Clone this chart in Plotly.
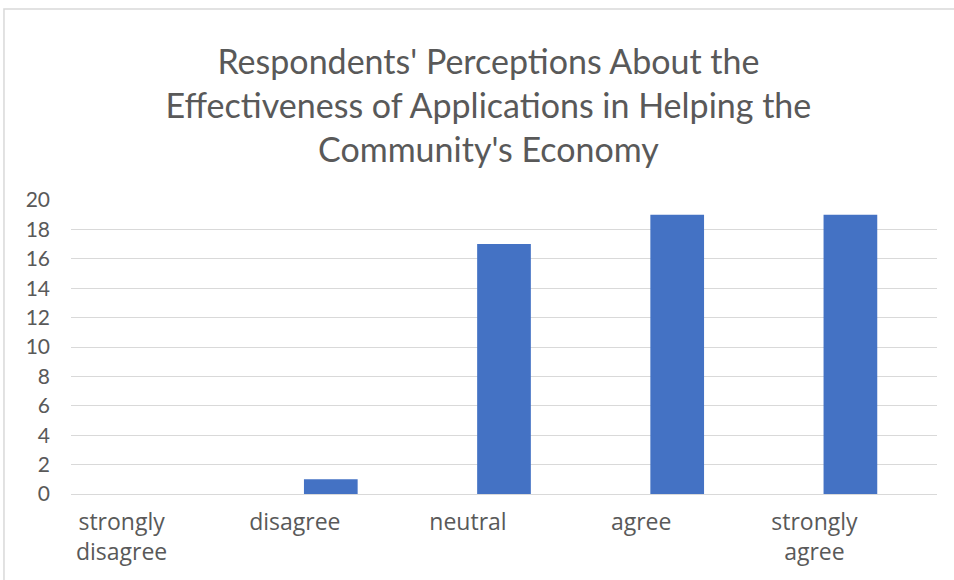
import plotly.graph_objects as go

categories = ["strongly<br>disagree", "disagree", "neutral", "agree", "strongly<br>agree"]
values = [0, 1, 17, 19, 19]
y_ticks = [0, 2, 4, 6, 8, 10, 12, 14, 16, 18, 20]
title_text = "Respondents' Perceptions About the<br>Effectiveness of Applications in Helping the<br>Community's Economy"

FONT = "Lato, Calibri, Carlito, sans-serif"
XFONT = "Open Sans, sans-serif"
GREY = "#595959"

fig = go.Figure(go.Bar(x=categories, y=values, marker_color="#4472C4",
                       marker_line_width=0, width=0.31))

fig.update_layout(
    width=954, height=580,
    margin=dict(l=71, r=17, t=200, b=86),
    paper_bgcolor="white", plot_bgcolor="white",
    font=dict(family=FONT, color=GREY),
    showlegend=False,
    title=dict(text=title_text, x=0.512, xanchor="center", yref="container",
               y=1 - 74 / 580, yanchor="middle",
               font=dict(size=34, color=GREY, family=FONT)),
    shapes=[dict(type="rect", xref="paper", yref="paper",
                 x0=-0.0774, x1=1.2, y0=-0.6, y1=1.6497,
                 line=dict(color="#d9d9d9", width=1.5), fillcolor="rgba(0,0,0,0)", layer="below")],
)
fig.update_xaxes(showgrid=False, showline=True, linecolor="#d9d9d9", linewidth=1,
                 ticks="", tickfont=dict(size=23, color=GREY, family=XFONT),
                 ticklabelshift=-36, ticklabelstandoff=7, tickangle=0)
fig.update_yaxes(range=[0, 20], tickvals=y_ticks, showgrid=True, gridcolor="#d9d9d9",
                 gridwidth=1, zeroline=False, showline=False, ticks="",
                 tickfont=dict(size=21, color=GREY, family=FONT), ticklabelstandoff=20)

fig.write_html("out.html")
